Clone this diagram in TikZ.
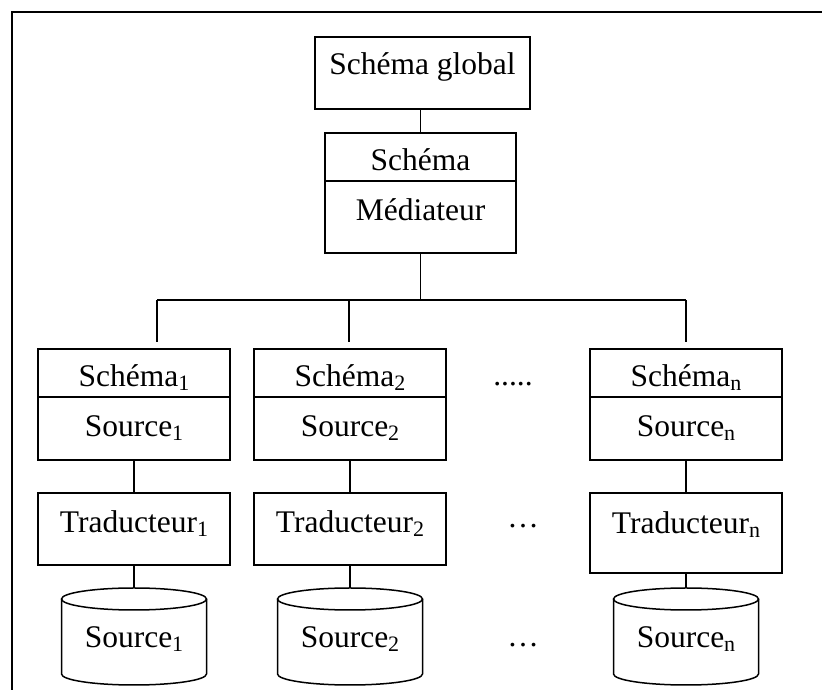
\documentclass[tikz,border=0pt]{standalone}
\usepackage{fontspec}
\setmainfont{Liberation Serif}
\usetikzlibrary{calc}
\tikzstyle{box}=[draw, line width=1.5pt, inner sep=0pt, text depth=0pt, minimum width=192]
\tikzstyle{link}=[line width=1.3pt]
\tikzstyle{txt}=[inner sep=0pt, anchor=base]
\newcommand{\idx}[1]{{\fontsize{22}{22}\selectfont\raisebox{-4pt}{#1}}}
\newcommand{\dbcyl}[3]{
	\draw[line width=1.5pt] (#2-72.5,91) -- (#2-72.5,16) arc (180:360:72.5 and 11) -- (#2+72.5,91);
	\draw[line width=1.5pt] (#2,91) ellipse (72.5 and 11);
	\coordinate (#1top) at (#2,102);
	\node[txt] (#1) at (#2,42) {#3};
}
\begin{document}
\begin{tikzpicture}[x=1pt, y=1pt, font=\fontsize{31.5}{36}\selectfont]
\useasboundingbox (0,0) rectangle (822,690);
\draw[line width=1.6pt] (12,0) -- (12,678) -- (822,678);
%
	\node[box, minimum width=215, minimum height=72, text height=4] (glob) at (422.5,617) {Schéma global};
	\node[box, minimum width=191, minimum height=48, text height=28] (medS) at (420.5,533) {Schéma};
	\node[box, minimum width=191, minimum height=72, text height=8] (medM) at (420.5,473) {Médiateur};
	\draw[link] (medS.north) -- (medS.north |- glob.south);
%
	\coordinate (bus) at (0,390);
	\coordinate (top1) at (157,390);
	\coordinate (top2) at (349,390);
	\coordinate (topn) at (686,390);
	\coordinate (end1) at (157,348);
	\coordinate (end2) at (349,348);
	\coordinate (endn) at (686,348);
	\draw[link] (medM.south) -- (medM.south |- bus);
	\draw[link] (top1) -- (topn);
	\draw[link] (top1) -- (end1);
	\draw[link] (top2) -- (end2);
	\draw[link] (topn) -- (endn);
%
	\node[box, minimum height=48, text height=28] (sch1) at (134,317) {Schéma\idx{1}};
	\node[box, minimum height=63, text height=17] (src1) at (134,261.5) {Source\idx{1}};
	\node[box, minimum height=72, text height=8] (trad1) at (134,161) {Traducteur\idx{1}};
	\node[box, minimum height=48, text height=28] (sch2) at (350,317) {Schéma\idx{2}};
	\node[box, minimum height=63, text height=17] (src2) at (350,261.5) {Source\idx{2}};
	\node[box, minimum height=72, text height=8] (trad2) at (350,161) {Traducteur\idx{2}};
	\node[box, minimum height=48, text height=28] (schn) at (686,317) {Schéma\idx{n}};
	\node[box, minimum height=63, text height=17] (srcn) at (686,261.5) {Source\idx{n}};
	\node[box, minimum height=80, text height=2] (tradn) at (686,157) {Traducteur\idx{n}};
%
	\dbcyl{db1}{134}{Source\idx{1}}
	\dbcyl{db2}{350}{Source\idx{2}}
	\dbcyl{dbn}{686}{Source\idx{n}}
%
	\draw[link] (src1) -- (trad1);
	\draw[link] (src2) -- (trad2);
	\draw[link] (srcn) -- (tradn);
	\draw[link] (trad1) -- (db1top);
	\draw[link] (trad2) -- (db2top);
	\draw[link] (tradn) -- (dbntop);
%
	\node[txt] (dotsA) at (513,304) {.....};
	\node[txt] (dotsB) at (523,162) {…};
	\node[txt] (dotsC) at (523,43) {…};
\end{tikzpicture}
\end{document}
